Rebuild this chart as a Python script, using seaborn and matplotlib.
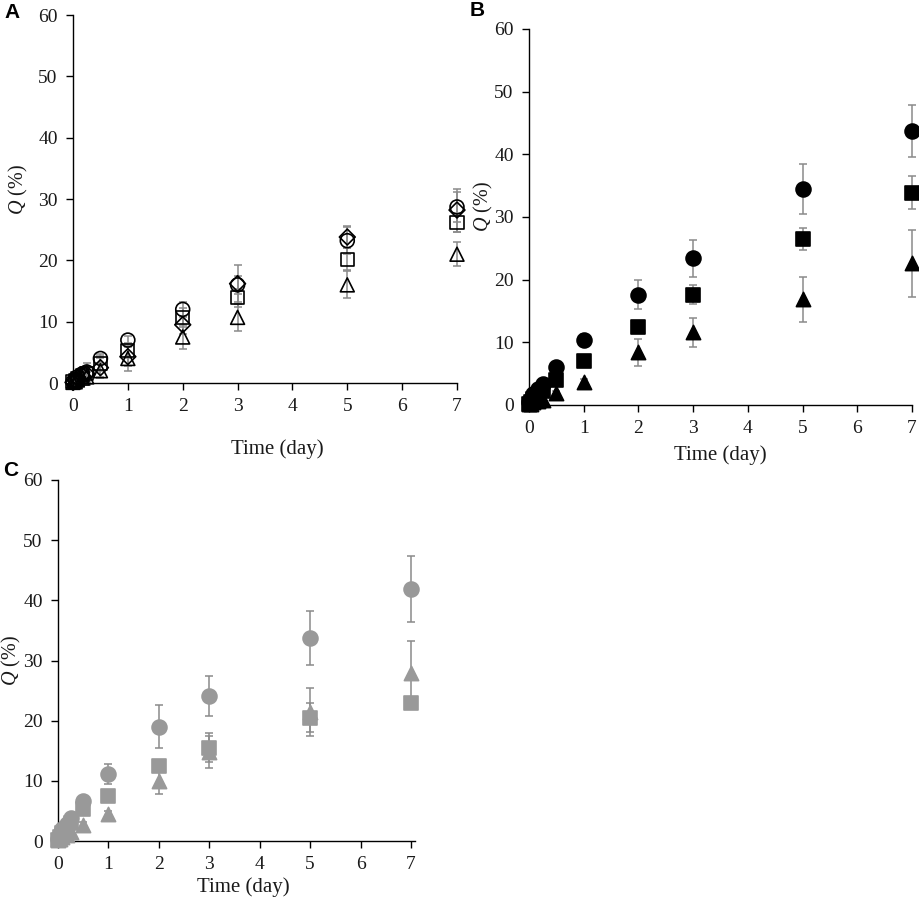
import numpy as np
import pandas as pd
import matplotlib
matplotlib.use("Agg")
import matplotlib.pyplot as plt
import seaborn as sns

sns.set_theme(style="white")
plt.rcParams['font.family'] = ['Liberation Serif', 'DejaVu Serif']
plt.rcParams['mathtext.fontset'] = 'custom'
plt.rcParams['mathtext.rm'] = 'Liberation Serif'
plt.rcParams['mathtext.it'] = 'Liberation Serif:italic'

# ---- data ----
time_days = [0, 0.04, 0.08, 0.17, 0.25, 0.5, 1, 2, 3, 5, 7]

# Panel A (open markers)
a_circle = [0.2, 0.5, 1.0, 1.5, 1.8, 4.0, 7.0, 12.0, 16.0, 23.2, 28.7]
a_circle_err = [0.1, 0.3, 0.5, 0.6, 0.8, 0.8, 0.6, 1.2, 1.5, 2.2, 2.5]
a_diamond = [0.1, 0.4, 0.8, 1.2, 1.5, 2.5, 4.3, 9.5, 16.2, 23.8, 28.2]
a_diamond_err = [0.1, 0.3, 0.6, 1.0, 1.8, 1.5, 1.5, 1.5, 3.0, 1.8, 3.5]
a_square = [0.2, 0.4, 0.8, 1.2, 1.6, 3.2, 5.3, 10.7, 13.9, 20.2, 26.2]
a_square_err = [0.1, 0.3, 0.5, 0.8, 1.0, 1.2, 1.2, 1.5, 1.5, 1.8, 1.5]
a_triangle = [0.1, 0.2, 0.5, 0.8, 1.0, 2.0, 4.0, 7.5, 10.7, 16.0, 21.0]
a_triangle_err = [0.1, 0.2, 0.4, 0.6, 0.8, 1.2, 2.0, 2.0, 2.2, 2.2, 2.0]

# Panel B (filled black markers)
b_circle = [0.4, 1.0, 1.8, 2.5, 3.3, 6.0, 10.4, 17.6, 23.4, 34.5, 43.7]
b_circle_err = [0.1, 0.2, 0.3, 0.4, 0.5, 0.6, 1.0, 2.3, 3.0, 4.0, 4.1]
b_square = [0.2, 0.5, 1.0, 1.5, 2.2, 4.0, 7.0, 12.4, 17.6, 26.5, 33.9]
b_square_err = [0.1, 0.2, 0.2, 0.3, 0.4, 0.5, 0.6, 0.8, 1.5, 1.8, 2.7]
b_triangle = [0.1, 0.2, 0.4, 0.6, 0.8, 1.9, 3.6, 8.4, 11.6, 16.9, 22.6]
b_triangle_err = [0.1, 0.1, 0.2, 0.3, 0.3, 0.4, 0.5, 2.1, 2.3, 3.6, 5.4]

# Panel C (filled grey markers)
c_circle = [0.4, 1.2, 2.0, 2.8, 3.8, 6.6, 11.1, 19.0, 24.1, 33.8, 41.9]
c_circle_err = [0.1, 0.2, 0.3, 0.4, 0.5, 0.6, 1.7, 3.6, 3.4, 4.5, 5.5]
c_square = [0.2, 0.6, 1.3, 2.0, 3.0, 5.4, 7.5, 12.4, 15.5, 20.5, 23.0]
c_square_err = [0.1, 0.2, 0.3, 0.3, 0.4, 0.6, 0.6, 0.8, 2.4, 2.4, 0.7]
c_triangle = [0.1, 0.3, 0.7, 1.0, 1.5, 2.7, 4.5, 9.9, 14.8, 21.5, 28.0]
c_triangle_err = [0.1, 0.1, 0.2, 0.3, 0.3, 0.4, 0.5, 2.1, 2.7, 4.0, 5.2]

y_ticks = [0, 10, 20, 30, 40, 50, 60]
x_ticks = [0, 1, 2, 3, 4, 5, 6, 7]

fig = plt.figure(figsize=(9.2, 9.0), dpi=100)

def px_axes(left, right, top, bottom):
    W, H = 920.0, 900.0
    return fig.add_axes([left / W, 1 - bottom / H, (right - left) / W, (bottom - top) / H])

axA = px_axes(73, 457, 15, 383)
axB = px_axes(529, 912, 29, 405)
axC = px_axes(58, 415, 480, 841)

ERR_COLOR = '#8a8a8a'

def draw_series(ax, y, err, marker, face, edge, size):
    ax.errorbar(time_days, y, yerr=err, fmt='none', ecolor=ERR_COLOR,
                elinewidth=1.1, capsize=3, capthick=1.1, zorder=2, clip_on=False)
    sns.scatterplot(x=time_days, y=y, ax=ax, marker=marker, s=size,
                    facecolor=face, edgecolor=edge, linewidth=1.2,
                    zorder=3, clip_on=False, legend=False)

# Panel A
for y, e, m, s in [(a_triangle, a_triangle_err, '^', 100),
                   (a_square, a_square_err, 's', 90),
                   (a_diamond, a_diamond_err, 'D', 65),
                   (a_circle, a_circle_err, 'o', 100)]:
    draw_series(axA, y, e, m, 'none', 'black', s)

# Panel B
for y, e, m, s in [(b_triangle, b_triangle_err, '^', 105),
                   (b_square, b_square_err, 's', 95),
                   (b_circle, b_circle_err, 'o', 115)]:
    draw_series(axB, y, e, m, 'black', 'black', s)

# Panel C
GREY = '#999999'
for y, e, m, s in [(c_triangle, c_triangle_err, '^', 105),
                   (c_square, c_square_err, 's', 95),
                   (c_circle, c_circle_err, 'o', 115)]:
    draw_series(axC, y, e, m, GREY, GREY, s)

for ax, xmax in [(axA, 7.0), (axB, 7.0), (axC, 7.08)]:
    ax.set_xlim(0, xmax)
    ax.set_ylim(0, 60)
    ax.set_xticks(x_ticks)
    ax.set_yticks(y_ticks)
    ax.set_xticklabels([str(v) for v in x_ticks])
    ax.set_yticklabels([str(v) for v in y_ticks])
    sns.despine(ax=ax)
    for sp in ['left', 'bottom']:
        ax.spines[sp].set_color('black')
        ax.spines[sp].set_linewidth(1.0)
    ax.tick_params(axis='both', direction='out', length=5, width=1.0,
                   color='black', labelsize=14, labelcolor='#1a1a1a',
                   bottom=True, left=True, pad=6)
    ax.set_facecolor('none')
    ax.grid(False)
    ax.set_xlabel('Time (day)', fontsize=15, color='#1a1a1a', va='center')
    ax.set_ylabel(r'$\it{Q}$ (%)', fontsize=14.5, color='#1a1a1a', va='center')

axA.xaxis.set_label_coords(0.533, -0.18)
axA.yaxis.set_label_coords(-0.143, 0.525)
axB.xaxis.set_label_coords(0.50, -0.133)
axB.yaxis.set_label_coords(-0.12, 0.527)
axC.xaxis.set_label_coords(0.518, -0.127)
axC.yaxis.set_label_coords(-0.129, 0.50)

letter_kw = dict(fontsize=15, fontweight='bold', family=['Liberation Sans', 'DejaVu Sans'],
                 ha='center', va='center', color='black')
fig.text(12 / 920, 1 - 13 / 900, 'A', **letter_kw)
fig.text(477 / 920, 1 - 11 / 900, 'B', **letter_kw)
fig.text(11 / 920, 1 - 470 / 900, 'C', **letter_kw)

fig.savefig('out.png', dpi=100, facecolor='white')
